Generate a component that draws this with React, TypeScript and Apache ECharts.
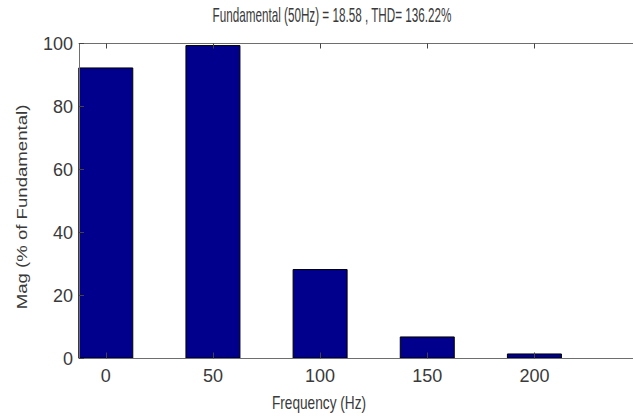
import React, { useEffect, useRef } from "react";
import * as echarts from "echarts";

const frequencies = [0, 50, 100, 150, 200];
const magnitudes = [92.4, 99.5, 28.4, 7.0, 1.6];
const xTickValues = [0, 50, 100, 150, 200];
const yTickInterval = 20;
const titleText = "Fundamental (50Hz) = 18.58 , THD= 136.22%";
const xName = "Frequency (Hz)";
const yName = "Mag (% of Fundamental)";

const FONT = "'Liberation Sans', Arial, sans-serif";
const TEXT = "#3a3a3a";
const AXIS = "#6e6e6e";
const TICK = "#444444";

export default function App() {
  const ref = useRef<HTMLDivElement>(null);
  useEffect(() => {
    if (!ref.current) return;
    const chart = echarts.init(ref.current, null, { renderer: "svg" });
    chart.setOption({
      animation: false,
      backgroundColor: "#ffffff",
      grid: { left: 79, top: 43.5, right: 0, bottom: 61.5, containLabel: false },
      xAxis: [
        {
          type: "value",
          position: "bottom",
          min: -12.5,
          max: 246,
          z: 5,
          axisLine: { show: true, onZero: false, lineStyle: { color: AXIS, width: 1 } },
          axisTick: { show: true, inside: true, length: 6, customValues: xTickValues, lineStyle: { color: TICK, width: 1 } },
          axisLabel: { show: true, customValues: xTickValues, color: TEXT, fontFamily: FONT, fontSize: 18, margin: 8 },
          splitLine: { show: false },
        },
        {
          type: "value",
          position: "top",
          min: -12.5,
          max: 246,
          z: 5,
          axisLine: { show: true, onZero: false, lineStyle: { color: AXIS, width: 1 } },
          axisTick: { show: true, inside: true, length: 5, customValues: xTickValues, lineStyle: { color: TICK, width: 1 } },
          axisLabel: { show: true, customValues: xTickValues, formatter: () => "" },
          splitLine: { show: false },
        },
      ],
      yAxis: [
        {
          type: "value",
          position: "left",
          min: 0,
          max: 100,
          interval: yTickInterval,
          z: 5,
          axisLine: { show: true, onZero: false, lineStyle: { color: AXIS, width: 1 } },
          axisTick: { show: true, inside: true, length: 5, lineStyle: { color: TICK, width: 1 } },
          axisLabel: { color: TEXT, fontFamily: FONT, fontSize: 18, margin: 6 },
          splitLine: { show: false },
        },
      ],
      series: [
        {
          type: "bar",
          xAxisIndex: 0,
          yAxisIndex: 0,
          barWidth: 55,
          z: 2,
          data: frequencies.map((f, i) => [f, magnitudes[i]]),
          itemStyle: { color: "#00008c", borderColor: "#000000", borderWidth: 1 },
        },
      ],
      graphic: [
        {
          type: "text",
          x: 332,
          y: 15,
          scaleX: 0.65,
          scaleY: 1.08,
          style: { text: titleText, fill: TEXT, font: `18px ${FONT}`, textAlign: "center", textVerticalAlign: "middle" },
        },
        {
          type: "text",
          x: 319,
          y: 402,
          scaleX: 0.76,
          scaleY: 1.05,
          style: { text: xName, fill: TEXT, font: `18px ${FONT}`, textAlign: "center", textVerticalAlign: "middle" },
        },
        {
          type: "text",
          x: 22,
          y: 207,
          rotation: Math.PI / 2,
          scaleX: 1.0,
          scaleY: 0.74,
          style: { text: yName, fill: TEXT, font: `18.6px ${FONT}`, textAlign: "center", textVerticalAlign: "middle" },
        },
      ],
    });
    return () => chart.dispose();
  }, []);
  return (
    <div
      ref={ref}
      style={{ position: "fixed", left: 0, top: 0, width: 633, height: 420 }}
    />
  );
}
